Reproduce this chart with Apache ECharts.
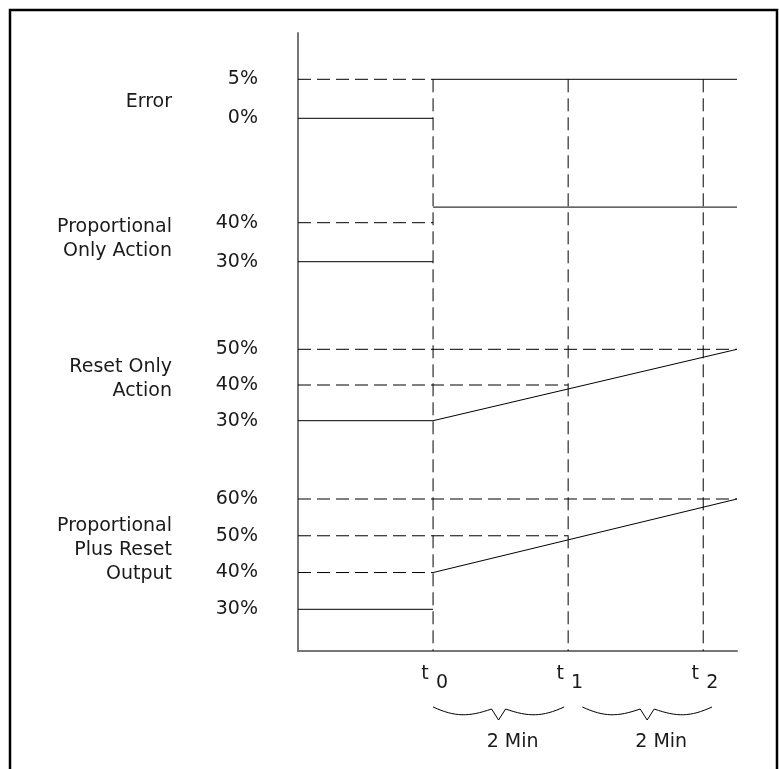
<!DOCTYPE html>
<html><head><meta charset="utf-8">
<script src="https://cdn.jsdelivr.net/npm/echarts@6/dist/echarts.min.js"></script>
<style>html,body{margin:0;padding:0;background:#fff}#c{width:779px;height:769px}</style>
</head><body><div id="c"></div>
<script>
// ---- data ----
const timeTicks = [0, 2, 4];            // minutes from t0
const timeSubscripts = ['0', '1', '2'];
const timeStart = -2, timeEnd = 4.5;

const panelNames = ['Error', 'Proportional\nOnly Action', 'Reset Only\nAction', 'Proportional\nPlus Reset\nOutput'];
const errorTicks = [5, 0];
const propTicks = [40, 30];
const resetTicks = [50, 40, 30];
const pprTicks = [60, 50, 40, 30];

// series values: [time (min), percent]
const errorBefore = [[-2, 0], [0, 0]];
const errorAfter = [[0, 5], [4.5, 5]];
const propBefore = [[-2, 30], [0, 30]];
const propAfter = [[0, 44], [4.5, 44]];
const resetLine = [[-2, 30], [0, 30], [4.5, 50]];
const pprBefore = [[-2, 30], [0, 30]];
const pprAfter = [[0, 40], [4.5, 60]];

// dashed reference levels: [percent, time where dashed line ends]
const errorRefs = [[5, 0]];
const propRefs = [[40, 0]];
const resetRefs = [[50, 4.5], [40, 2]];
const pprRefs = [[60, 4.5], [50, 2], [40, 0]];

// braces under the time axis: [start, end] in minutes
const braceSpans = [[0, 1.94], [2.21, 4.13]];
const braceLabels = ['2 Min', '2 Min'];

// ---- layout ----
const GRID_TOP = 33, GRID_BOTTOM = 651;
function axisRange(v1, p1, v2, p2) {
  const k = (p1 - p2) / (v2 - v1);
  return { min: v1 - (GRID_BOTTOM - p1) / k, max: v1 + (p1 - GRID_TOP) / k };
}
const ranges = [
  axisRange(0, 118.3, 5, 79.3),
  axisRange(30, 261.7, 40, 222.7),
  axisRange(30, 420.7, 50, 349.3),
  axisRange(30, 609.3, 60, 499)
];
const tickSets = [errorTicks, propTicks, resetTicks, pprTicks];
const FONT = '"DejaVu Sans"';
const TXT = '#1a1a1a';

const yAxes = ranges.map((r, i) => ({
  type: 'value', min: r.min, max: r.max, position: 'left',
  axisLine: { show: i === 0, onZero: false, lineStyle: { color: '#777', width: 2 } },
  axisTick: { show: false }, splitLine: { show: false },
  axisLabel: { customValues: tickSets[i], formatter: '{value}%', margin: 40,
    fontSize: 19, fontFamily: FONT, color: TXT }
}));

const solid = { color: '#000', width: 1 };
const dashed = { color: '#000', width: 1, type: [13, 6] };
function lineSeries(data, yi, style) {
  return { type: 'line', xAxisIndex: 0, yAxisIndex: yi, data: data, symbol: 'none',
    lineStyle: style, silent: true, animation: false, z: 3 };
}
const series = [];
[[errorBefore, errorAfter], [propBefore, propAfter], [resetLine], [pprBefore, pprAfter]].forEach((arr, i) => {
  arr.forEach(d => series.push(lineSeries(d, i, solid)));
});
[errorRefs, propRefs, resetRefs, pprRefs].forEach((refs, i) => {
  refs.forEach(r => series.push(lineSeries([[timeStart, r[0]], [r[1], r[0]]], i, dashed)));
});
timeTicks.forEach(t => series.push(lineSeries([[t, errorTicks[0]], [t, ranges[0].min]], 0, dashed)));

series.push({
  type: 'custom', xAxisIndex: 0, yAxisIndex: 0, silent: true, animation: false, clip: false,
  data: braceSpans.map(s => [s[0], s[1]]),
  encode: { x: [0, 1] },
  renderItem: function (params, api) {
    const p0 = api.coord([api.value(0), ranges[0].min]);
    const p1 = api.coord([api.value(1), ranges[0].min]);
    const x0 = p0[0], x1 = p1[0], base = p0[1];
    const top = base + 56, mid = (x0 + x1) / 2;
    const d = 'M' + x0 + ',' + top +
      ' C' + (x0 + 22) + ',' + (top + 10) + ' ' + (mid - 30) + ',' + (top + 10) + ' ' + (mid - 7) + ',' + (top + 2) +
      ' L' + mid + ',' + (top + 13) + ' L' + (mid + 7) + ',' + (top + 2) +
      ' C' + (mid + 30) + ',' + (top + 10) + ' ' + (x1 - 22) + ',' + (top + 10) + ' ' + x1 + ',' + top;
    return { type: 'group', children: [
      { type: 'path', shape: { pathData: d }, style: { fill: 'none', stroke: '#000', lineWidth: 1 } },
      { type: 'text', x: mid + 14, y: base + 91,
        style: { text: braceLabels[params.dataIndex], align: 'center', verticalAlign: 'middle',
          fontSize: 19, fontFamily: 'DejaVu Sans', fill: TXT } }
    ] };
  }
});

const xBase = {
  type: 'value', min: timeStart, max: timeEnd, position: 'bottom',
  axisTick: { show: false }, splitLine: { show: false }
};
const option = {
  animation: false,
  backgroundColor: '#fff',
  grid: { left: 298, right: 42, top: GRID_TOP, bottom: 769 - GRID_BOTTOM, containLabel: false },
  xAxis: [
    Object.assign({}, xBase, {
      axisLine: { show: true, onZero: false, lineStyle: { color: '#777', width: 2 } },
      axisLabel: { customValues: timeTicks, formatter: () => '{t|t}', margin: 14,
        rich: { t: { fontSize: 19, fontFamily: FONT, color: TXT, padding: [0, 16, 0, 0] } } }
    }),
    Object.assign({}, xBase, {
      axisLine: { show: false, onZero: false },
      axisLabel: { customValues: timeTicks,
        formatter: v => '{s|' + timeSubscripts[timeTicks.indexOf(v)] + '}', margin: 23,
        rich: { s: { fontSize: 19, fontFamily: FONT, color: TXT, padding: [0, 0, 0, 18] } } }
    })
  ],
  yAxis: yAxes,
  graphic: [
    { type: 'rect', shape: { x: 10, y: 10, width: 767, height: 800 },
      style: { fill: 'none', stroke: '#000', lineWidth: 2.5 }, silent: true },
    ...[102, 239, 379, 550].map((cy, i) => ({
      type: 'text', x: 172, y: cy, silent: true,
      style: { text: panelNames[i], align: 'right', verticalAlign: 'middle',
        fontSize: 19, fontFamily: 'DejaVu Sans', lineHeight: 24, fill: TXT }
    }))
  ],
  series: series
};
const chart = echarts.init(document.getElementById('c'), null, { renderer: 'canvas' });
chart.setOption(option);
</script></body></html>
